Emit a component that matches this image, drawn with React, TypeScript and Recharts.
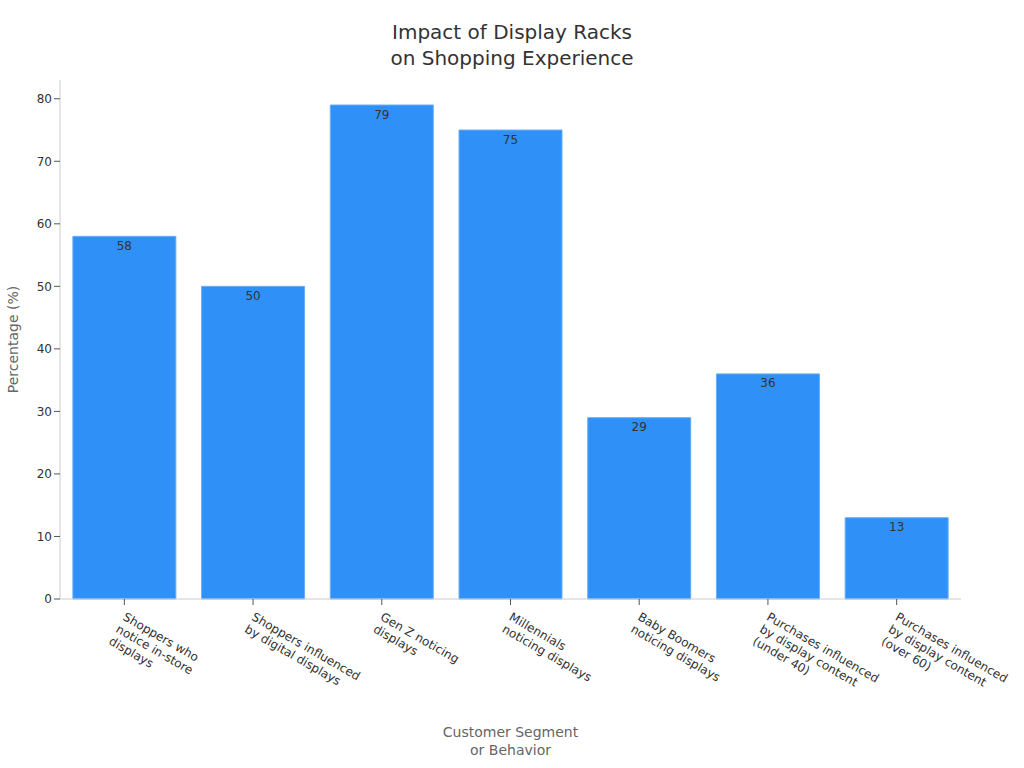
import { BarChart, Bar, XAxis, YAxis, LabelList, Label } from 'recharts'

const categories = [
  'Shoppers who\nnotice in-store\ndisplays',
  'Shoppers influenced\nby digital displays',
  'Gen Z noticing\ndisplays',
  'Millennials\nnoticing displays',
  'Baby Boomers\nnoticing displays',
  'Purchases influenced\nby display content\n(under 40)',
  'Purchases influenced\nby display content\n(over 60)',
]
const percentages = [58, 50, 79, 75, 29, 36, 13]
const yTicks = [0, 10, 20, 30, 40, 50, 60, 70, 80]

const FONT = '"DejaVu Sans", Verdana, sans-serif'

const data = categories.map((name, i) => ({ name, value: percentages[i] }))

function SlantedTick(props: any) {
  const { x, y, payload } = props
  const lines = String(payload.value).split('\n')
  const tx = x + 2
  const ty = y + 5
  return (
    <text
      x={tx}
      y={ty}
      transform={`rotate(30, ${tx}, ${ty})`}
      fontSize={12}
      fontFamily={FONT}
      fill="#333"
      textAnchor="start"
    >
      {lines.map((line, i) => (
        <tspan key={i} x={tx} dy={i === 0 ? '0.71em' : 14}>
          {line}
        </tspan>
      ))}
    </text>
  )
}

export default function App() {
  return (
    <div style={{ position: 'fixed', left: 0, top: 0, width: 1024, height: 768, background: '#fff', fontFamily: FONT }}>
      <div
        style={{
          position: 'absolute',
          top: 19,
          left: 0,
          width: 1024,
          textAlign: 'center',
          fontSize: 20,
          lineHeight: '26px',
          color: '#333',
        }}
      >
        Impact of Display Racks
        <br />
        on Shopping Experience
      </div>
      <div
        style={{
          position: 'absolute',
          top: 723,
          left: 60,
          width: 901,
          textAlign: 'center',
          fontSize: 14,
          lineHeight: '18px',
          color: '#666',
        }}
      >
        Customer Segment
        <br />
        or Behavior
      </div>
      <BarChart
        width={1024}
        height={768}
        data={data}
        margin={{ top: 80, right: 63, bottom: 69, left: 0 }}
        barCategoryGap="10%"
      >
        <XAxis
          dataKey="name"
          interval={0}
          height={100}
          stroke="#ccc"
          tickLine={{ stroke: '#555' }}
          tick={<SlantedTick />}
        />
        <YAxis
          width={60}
          domain={[0, 83]}
          ticks={yTicks}
          stroke="#ccc"
          tickLine={{ stroke: '#555' }}
          tick={{ fill: '#333', fontSize: 12, fontFamily: FONT }}
        >
          <Label
            value="Percentage (%)"
            angle={-90}
            position="insideLeft"
            offset={13}
            style={{ textAnchor: 'middle', fill: '#666', fontSize: 14, fontFamily: FONT }}
          />
        </YAxis>
        <Bar dataKey="value" fill="#2f91f7" stroke="#6aaef5" strokeWidth={1} isAnimationActive={false}>
          <LabelList
            dataKey="value"
            position="insideTop"
            offset={5}
            fill="#333"
            fontSize={12}
            fontFamily={FONT}
          />
        </Bar>
      </BarChart>
    </div>
  )
}
